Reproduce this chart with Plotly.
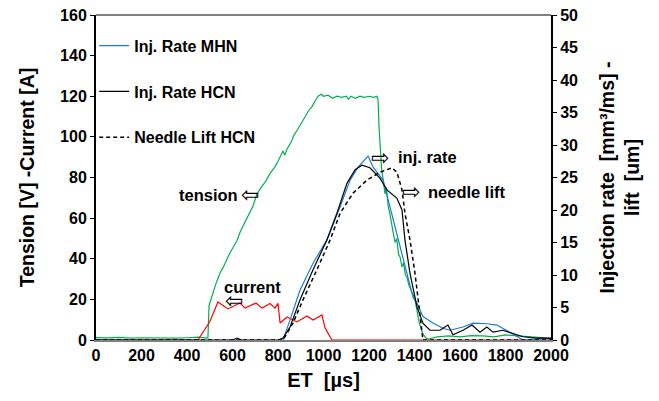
import plotly.graph_objects as go

# ---------------- data ----------------
tension_t = [0, 50, 100, 150, 200, 250, 300, 350, 400, 450, 480, 492, 497, 505, 515, 525, 535, 545,
             560, 575, 589, 605, 620, 633, 650, 665, 677, 690, 708, 725, 745, 765, 785, 800, 822,
             830, 840, 860, 870, 883, 900, 920, 935, 950, 965, 976, 990, 1000, 1020, 1040, 1060,
             1080, 1100, 1110, 1120, 1140, 1160, 1180, 1200, 1220, 1235, 1240, 1244, 1248, 1255,
             1262, 1270, 1277, 1284, 1292, 1300, 1306, 1315, 1322, 1330, 1336, 1345, 1352, 1360,
             1367, 1375, 1385, 1395, 1402, 1412, 1420, 1430, 1437, 1450, 1460, 1500, 1550, 1600,
             1650, 1700, 1750, 1800, 1850, 1900, 1950, 2000]
tension_v = [1.2, 1.0, 1.3, 0.9, 1.1, 1.0, 1.2, 0.9, 1.1, 1.4, 1.0, 1.0, 17, 20, 24, 27, 30, 33,
             36, 40, 43, 46, 49, 53, 57, 61, 63, 66, 72, 75, 78, 82, 85, 88, 93,
             91, 94, 98, 101, 103, 106, 110, 113, 115, 118, 120, 121, 120, 120.5, 119, 120,
             119.5, 120, 118.5, 120, 119, 120, 119.5, 120, 119.5, 120, 118, 105, 98, 85,
             79, 72, 75, 66, 62, 56, 53, 48, 50, 42, 41, 36, 38, 32,
             31, 27, 24, 22, 20, 14, 9, 5, 3, 1, 0.5, 1.5, 2, 1.5,
             2.2, 2, 1.5, 2.5, 2, 1.5, 1, 0.8]

current_t = [0, 448, 500, 536, 580, 633, 655, 703, 730, 765, 787, 800, 809, 840, 883, 927, 954,
             993, 1007, 1037, 2000]
current_v = [0, 0, 9, 18.7, 15.3, 18.2, 15.7, 18.2, 15.7, 18, 15.7, 18, 8.4, 11.3, 8.9, 11.8, 9.8,
             12.3, 5.9, 0, 0]

mhn_t = [0, 400, 600, 800, 822, 853, 897, 954, 1015, 1073, 1117, 1152, 1183, 1196, 1218, 1262,
         1292, 1328, 1367, 1394, 1411, 1437, 1481, 1525, 1556, 1613, 1657, 1688, 1718, 1763,
         1820, 1877, 1952, 2000]
mhn_v = [0, -0.2, -0.3, -0.2, 0, 3.1, 7.7, 11.8, 15.4, 20.5, 24.6, 26.6, 27.7, 28.3, 26.6, 24.6,
         20.5, 15.4, 10.3, 6.5, 5.7, 3.6, 2.6, 1.8, 1.5, 2.0, 2.6, 2.6, 2.5, 2.3,
         1.1, 0.0, 0.2, 0.2]

hcn_t = [0, 600, 620, 640, 800, 822, 853, 897, 954, 1015, 1059, 1103, 1139, 1169, 1204, 1248,
         1279, 1323, 1345, 1358, 1380, 1411, 1437, 1468, 1512, 1547, 1569, 1613, 1653, 1688,
         1718, 1745, 1789, 1833, 1877, 1938, 2000]
hcn_v = [0, 0, 0.3, 0, 0, 0.3, 2, 6.2, 10.8, 15.4, 19.5, 24.1, 26.2, 26.9, 26.5, 24.9,
         23.1, 21.8, 20, 15.4, 10.3, 5.1, 2.6, 1.5, 1.5, 2.3, 0.8, 1.5, 2.3, 1.2,
         2.0, 1.2, 1.5, 1.0, 0.5, 0.3, 0.3]

lift_t = [0, 800, 822, 866, 910, 971, 1029, 1073, 1130, 1191, 1248, 1301, 1323, 1345, 1358,
          1380, 1402, 1420, 1433, 1437, 2000]
lift_v = [0, 0, 0, 2.6, 6.2, 10.8, 15.4, 19.5, 22.6, 24.6, 25.8, 26.5, 25.8, 23.1, 19.5,
          15.4, 10.3, 5.1, 1.1, 0, 0]

x_ticks = list(range(0, 2001, 200))

FONT = "Liberation Sans, Arial, sans-serif"

fig = go.Figure()
fig.add_trace(go.Scatter(x=tension_t, y=tension_v, mode="lines", line=dict(color="#00B050", width=1.2),
                         showlegend=False, yaxis="y"))
fig.add_trace(go.Scatter(x=current_t, y=current_v, mode="lines", line=dict(color="#FF0000", width=1.2),
                         showlegend=False, yaxis="y"))
fig.add_trace(go.Scatter(x=mhn_t, y=mhn_v, mode="lines", name="Inj. Rate MHN",
                         line=dict(color="#1F7BD0", width=1.2), yaxis="y2", legendgroup="a"))
fig.add_trace(go.Scatter(x=hcn_t, y=hcn_v, mode="lines", name="Inj. Rate HCN",
                         line=dict(color="#000000", width=1.2), yaxis="y2", legendgroup="b"))
fig.add_trace(go.Scatter(x=lift_t, y=lift_v, mode="lines", name="Needle Lift HCN",
                         line=dict(color="#000000", width=1.5, dash="4px,3px"), yaxis="y2", legendgroup="c"))

tickfont = dict(family=FONT, size=16, color="black", weight="bold")
titlefont = dict(family=FONT, size=19.5, color="black", weight="bold")

# the page body adds an 8 px offset, so the figure is 8 px smaller in each direction
fig.update_layout(
    width=651, height=393,
    margin=dict(l=88, r=108, t=7, b=61),
    plot_bgcolor="white", paper_bgcolor="white",
    xaxis=dict(range=[0, 2000], tickvals=x_ticks, showgrid=False, zeroline=False, automargin=False,
               showline=True, linecolor="#808080", linewidth=2, ticks="",
               tickfont=tickfont, ticklabeloverflow="allow",
               title=dict(text="ET  [µs]", font=dict(family=FONT, size=20, color="black", weight="bold"), standoff=10)),
    yaxis=dict(range=[0, 160], dtick=20, showgrid=False, zeroline=False, automargin=False,
               showline=True, linecolor="black", linewidth=2, ticks="outside", ticklen=4,
               tickcolor="black", tickfont=tickfont, ticklabeloverflow="allow",
               title=dict(text="Tension [V] -Current [A]", font=titlefont, standoff=20)),
    yaxis2=dict(range=[0, 50], dtick=5, overlaying="y", side="right", showgrid=False, zeroline=False,
                automargin=False,
                showline=True, linecolor="black", linewidth=2, ticks="outside", ticklen=4,
                tickcolor="black", tickfont=tickfont, ticklabeloverflow="allow",
                title=dict(text="Injection rate  [mm³/ms] -<br>lift  [um]", font=titlefont, standoff=23)),
    legend=dict(x=-0.004, y=0.958, xanchor="left", yanchor="top", bgcolor="rgba(0,0,0,0)",
                font=dict(family=FONT, size=16, color="black", weight="bold"),
                tracegroupgap=22, itemwidth=30),
    shapes=[dict(type="line", xref="paper", yref="paper", x0=0, x1=1, y0=1, y1=1,
                 line=dict(color="black", width=1))],
)

ann_font = dict(family=FONT, size=16.5, color="black", weight="bold")
arrow_font = dict(family="DejaVu Sans", size=22, color="black")
fig.add_annotation(x=633, y=71.4, xref="x", yref="y", text="tension", showarrow=False,
                   xanchor="right", yanchor="middle", font=ann_font)
fig.add_annotation(x=677, y=71.4, xref="x", yref="y", text="⇦", showarrow=False,
                   xanchor="center", yanchor="middle", font=arrow_font)
fig.add_annotation(x=690, y=26.0, xref="x", yref="y", text="current", showarrow=False,
                   xanchor="center", yanchor="middle", font=ann_font)
fig.add_annotation(x=607, y=19.3, xref="x", yref="y", text="⇦", showarrow=False,
                   xanchor="center", yanchor="middle", font=arrow_font)
fig.add_annotation(x=1248, y=28.15, xref="x", yref="y2", text="⇨", showarrow=False,
                   xanchor="center", yanchor="middle", font=arrow_font)
fig.add_annotation(x=1319, y=28.15, xref="x", yref="y2", text="inj. rate", showarrow=False,
                   xanchor="left", yanchor="middle", font=ann_font)
fig.add_annotation(x=1385, y=22.8, xref="x", yref="y2", text="⇨", showarrow=False,
                   xanchor="center", yanchor="middle", font=arrow_font)
fig.add_annotation(x=1451, y=22.8, xref="x", yref="y2", text="needle lift", showarrow=False,
                   xanchor="left", yanchor="middle", font=ann_font)

fig.write_html("out.html")
